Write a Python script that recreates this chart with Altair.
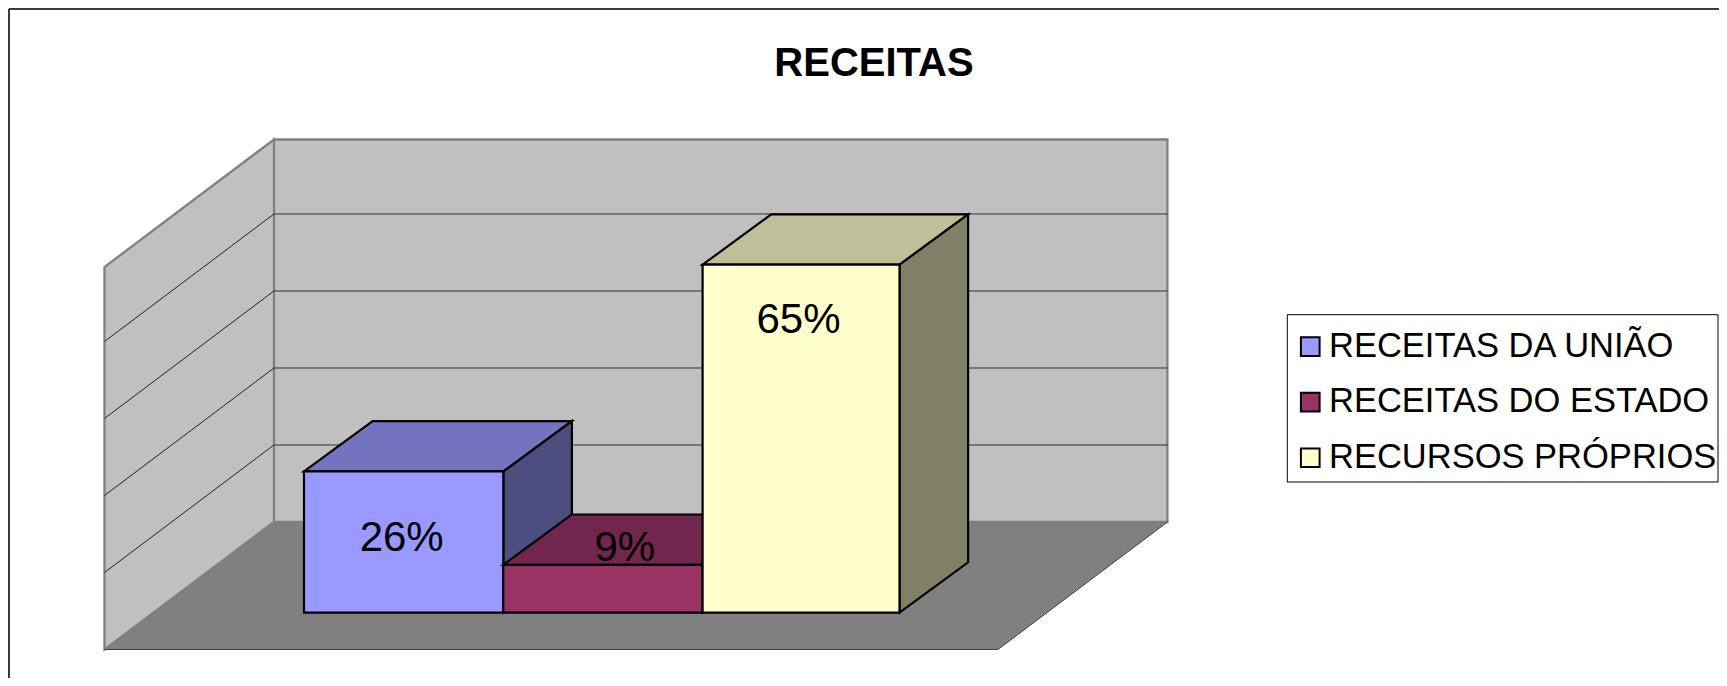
import altair as alt
import pandas as pd

# ---- values ----
TITLE = "RECEITAS"
categories = ["RECEITAS DA UNIÃO", "RECEITAS DO ESTADO", "RECURSOS PRÓPRIOS"]
values = [26.3, 8.9, 64.8]
labels = ["26%", "9%", "65%"]
gridlines = [14.34, 28.68, 43.02, 57.36]
wall_top = 71.23

front_colors = ["#9999FF", "#993366", "#FFFFCC"]
top_colors = ["#7373BF", "#73264D", "#BFBF99"]
side_colors = ["#4D4D80", "#4D1A33", "#808066"]

# ---- layout ----
W, H = 1711, 670
PX_CAT, PX_PCT = 198.9, 5.37      # pixels per category / per percent
X0_PX, Y0_PX = 296.0, 604.7       # where bar 0 meets the baseline
x_dom = [-X0_PX / PX_CAT, (W - X0_PX) / PX_CAT]
y_dom = [(Y0_PX - H) / PX_PCT, Y0_PX / PX_PCT]
xs = alt.Scale(domain=x_dom, range=[0, W], nice=False, zero=False)
ys = alt.Scale(domain=y_dom, range=[H, 0], nice=False, zero=False)

FLOOR_Y, FLOOR_X, FLOOR_W = -6.85, -1.003, 4.492   # front edge of the floor
WALL_DX, WALL_DY = 0.852, 23.74                    # depth of the whole box
BAR_DX, BAR_DY = 0.345, 9.39                       # depth of a bar
BAR_W = [1.002, 1.002, 0.99]


def X(f="x"):
    return alt.X(f"{f}:Q", scale=xs, axis=None, title=None)


def Y(f="y"):
    return alt.Y(f"{f}:Q", scale=ys, axis=None, title=None)


def vpoly(x0, x1, lo0, hi0, lo1, hi1, fill, stroke=None, sw=0):
    """Face whose left and right edges are vertical."""
    df = pd.DataFrame({"x": [x0, x1], "y": [lo0, lo1], "y2": [hi0, hi1]})
    kw = dict(stroke=stroke, strokeWidth=sw) if stroke else {}
    return alt.Chart(df).mark_area(orient="vertical", fill=fill, opacity=1, **kw).encode(
        x=X(), y=Y(), y2="y2:Q")


def hpoly(y0, y1, l0, r0, l1, r1, fill, stroke=None, sw=0):
    """Face whose top and bottom edges are horizontal."""
    df = pd.DataFrame({"y": [y0, y1], "x": [l0, l1], "x2": [r0, r1]})
    kw = dict(stroke=stroke, strokeWidth=sw) if stroke else {}
    return alt.Chart(df).mark_area(orient="horizontal", fill=fill, opacity=1, **kw).encode(
        y=Y(), x=X(), x2="x2:Q")


def seg(x0, y0, x1, y1, color, sw):
    df = pd.DataFrame({"x": [x0, x1], "y": [y0, y1]})
    return alt.Chart(df).mark_line(color=color, strokeWidth=sw).encode(x=X(), y=Y())


layers = []
one = pd.DataFrame({"a": [0]})

# outer frame (only its top and left edges fall inside the picture)
layers.append(alt.Chart(one).mark_rule(color="black", strokeWidth=1.5).encode(
    x=alt.value(1), x2=alt.value(W), y=alt.value(1)))
layers.append(alt.Chart(one).mark_rule(color="black", strokeWidth=1.5).encode(
    x=alt.value(1), y=alt.value(1), y2=alt.value(H)))

# legend box
layers.append(alt.Chart(one).mark_rect(fill="white", stroke="black", strokeWidth=1).encode(
    x=alt.value(1279.3), x2=alt.value(1710), y=alt.value(306.7), y2=alt.value(474)))

# box: back wall, left wall, floor
bx0, bx1 = FLOOR_X + WALL_DX, FLOOR_X + FLOOR_W + WALL_DX
by0 = FLOOR_Y + WALL_DY
layers.append(hpoly(by0, by0 + wall_top, bx0, bx1, bx0, bx1, "#C0C0C0", "#808080", 2.3))
layers.append(vpoly(FLOOR_X, bx0, FLOOR_Y, FLOOR_Y + wall_top, by0, by0 + wall_top,
                    "#C0C0C0", "#808080", 2.3))
layers.append(hpoly(FLOOR_Y, by0, FLOOR_X, FLOOR_X + FLOOR_W, bx0, bx1, "#808080"))
layers.append(seg(FLOOR_X, FLOOR_Y, FLOOR_X + FLOOR_W, FLOOR_Y, "#404040", 1))
layers.append(seg(FLOOR_X + FLOOR_W, FLOOR_Y, bx1, by0, "#404040", 1))

# gridlines on both walls
for g in gridlines:
    layers.append(seg(bx0, by0 + g, bx1, by0 + g, "#303030", 1))
    layers.append(seg(FLOOR_X, FLOOR_Y + g, bx0, by0 + g, "#202020", 1))

# bars: top and side faces, then the front face (which carries the legend)
left = 0.0
rows = []
for i, v in enumerate(values):
    right = left + BAR_W[i]
    layers.append(hpoly(v, v + BAR_DY, left, right, left + BAR_DX, right + BAR_DX,
                        top_colors[i], "black", 2.2))
    layers.append(vpoly(right, right + BAR_DX, 0, v, BAR_DY, v + BAR_DY,
                        side_colors[i], "black", 2.2))
    rows.append({"cat": categories[i], "x": left, "x2": right, "y": 0, "y2": v})
    layers.append(alt.Chart(pd.DataFrame([rows[-1]])).mark_rect(stroke="black", strokeWidth=2.2).encode(
        x=X(), x2="x2:Q", y=Y(), y2="y2:Q",
        color=alt.Color("cat:N", sort=categories,
                        scale=alt.Scale(domain=categories, range=front_colors),
                        legend=alt.Legend(
                            title=None, orient="none", legendX=1285, legendY=321.3,
                            symbolType="square", symbolSize=350,
                            symbolStrokeColor="black", symbolStrokeWidth=2,
                            symbolOpacity=1,
                            labelFont="Liberation Sans", labelFontSize=34.5,
                            labelColor="black", labelLimit=600, labelOffset=1.5,
                            padding=0, rowPadding=20.6,
                        ))))
    left = right

# data labels
label_dx = [-0.01, 0.11, -0.013]
label_dy = [-14.8, 0.8, -12.65]
lab = pd.DataFrame({
    "x": [sum(BAR_W[:i]) + BAR_W[i] / 2 + label_dx[i] for i in range(3)],
    "y": [values[i] + label_dy[i] for i in range(3)],
    "t": labels,
})
layers.append(alt.Chart(lab).mark_text(font="Liberation Sans", fontSize=42, color="black",
                                       align="center", baseline="alphabetic").encode(
    x=X(), y=Y(), text="t:N"))

# title
layers.append(alt.Chart(pd.DataFrame({"t": [TITLE]})).mark_text(
    font="Liberation Sans", fontSize=40, fontWeight="bold", color="black",
    align="center", baseline="alphabetic").encode(
    x=alt.value(866), y=alt.value(67.7), text="t:N"))

chart = alt.layer(*layers).properties(
    width=W, height=H, padding=0, autosize=alt.AutoSizeParams(type="none"),
).configure_view(stroke=None).configure(background="white")

chart.save("out.html", embed_options={"renderer": "svg", "actions": False})
